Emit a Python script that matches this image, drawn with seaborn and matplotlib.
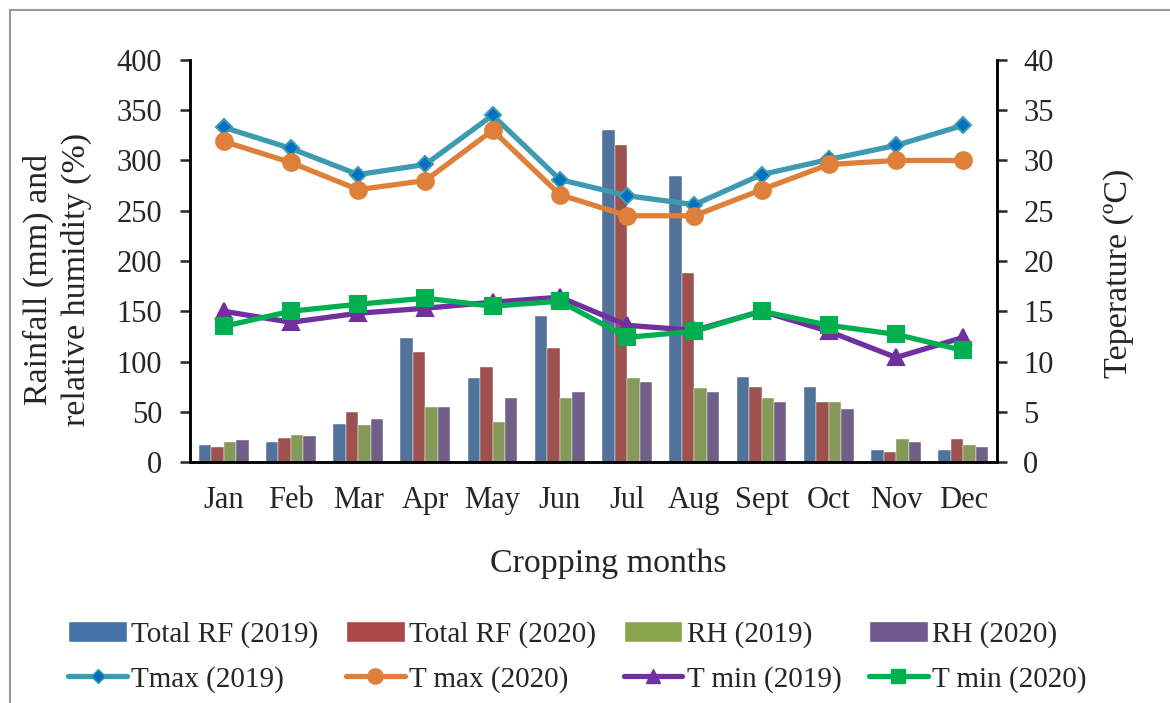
import numpy as np
import pandas as pd
import matplotlib
matplotlib.use("Agg")
import matplotlib.pyplot as plt
from matplotlib.patches import Rectangle, Patch
from matplotlib.lines import Line2D
import seaborn as sns

# data
months = ["Jan", "Feb", "Mar", "Apr", "May", "Jun", "Jul", "Aug", "Sept", "Oct", "Nov", "Dec"]
rf_2019 = [17, 20, 37.5, 123, 84, 145.5, 330.5, 285, 85, 74.5, 11.5, 12]
rf_2020 = [15, 24, 50, 109, 95, 113, 315.5, 188, 75, 60, 9.5, 22.5]
rh_2019 = [20, 27, 37, 54.5, 39.5, 64, 84, 74, 64, 60, 22.5, 17]
rh_2020 = [22, 25.5, 42.5, 54.5, 64, 70, 79.5, 69.5, 60, 53, 20, 15]
tmax_2019 = [33.3, 31.2, 28.6, 29.6, 34.5, 28.1, 26.5, 25.6, 28.6, 30.1, 31.5, 33.5]
tmax_2020 = [31.9, 29.8, 27.1, 28.0, 33.0, 26.6, 24.5, 24.5, 27.1, 29.6, 30.0, 30.0]
tmin_2019 = [15.0, 13.9, 14.8, 15.3, 15.9, 16.4, 13.6, 13.1, 15.0, 13.0, 10.4, 12.4]
tmin_2020 = [13.5, 15.0, 15.7, 16.3, 15.5, 16.0, 12.4, 13.0, 15.0, 13.6, 12.7, 11.1]

bar_names = ["Total RF (2019)", "Total RF (2020)", "RH (2019)", "RH (2020)"]
bar_colors = ["#4572A7", "#AA4643", "#89A54E", "#71588F"]
line_names = ["Tmax (2019)", "T max (2020)", "T min (2019)", "T min (2020)"]
line_colors = ["#3E9AB1", "#DE8039", "#7030A0", "#00B050"]
marker_face = ["#0070C0", "#DE8039", "#7030A0", "#00B050"]
markers = ["D", "o", "^", "s"]
marker_sizes = [8, 12, 11, 11]

bars = pd.DataFrame({
    "month": months * 4,
    "value": rf_2019 + rf_2020 + rh_2019 + rh_2020,
    "series": sum([[n] * 12 for n in bar_names], []),
})
temps = [tmax_2019, tmax_2020, tmin_2019, tmin_2020]

sns.set_style("white")
plt.rcParams["font.family"] = ["Liberation Serif", "DejaVu Serif"]

fig = plt.figure(figsize=(11.7, 7.03), dpi=100)
ax = fig.add_axes([0.1624, 0.3428, 0.6897, 0.5719])

# bars: rainfall and humidity on the left axis
sns.barplot(data=bars, x="month", y="value", hue="series", palette=bar_colors,
            width=0.74, ax=ax, legend=False, edgecolor="white", linewidth=0.3)

# lines: temperatures on the right axis
ax2 = ax.twinx()
pos = np.arange(len(months))
for vals, name, c, mf, m, ms in zip(temps, line_names, line_colors, marker_face, markers, marker_sizes):
    sns.lineplot(x=pos, y=vals, ax=ax2, color=c, linewidth=3.8, marker=m,
                 markersize=ms, markerfacecolor=mf, markeredgecolor=c,
                 markeredgewidth=1.5, legend=False)

ax.set_xlim(-0.5, 11.5)
ax.set_ylim(0, 400)
ax.set_yticks(range(0, 401, 50))
ax2.set_ylim(0, 40)
ax2.set_yticks(range(0, 41, 5))

ax.set_xticks(pos)
ax.set_xticklabels(months)
ax.set_xticks(np.arange(-0.5, 12, 1), minor=True)
ax.tick_params(axis="x", which="major", length=0, labelsize=22, pad=17)
ax.tick_params(axis="x", which="minor", direction="inout", length=14, width=1.8, color="black")
ax.tick_params(axis="y", direction="out", length=7, width=1.8, labelsize=22, left=True, pad=13)
ax2.tick_params(axis="y", direction="out", length=7, width=1.8, labelsize=22, right=True, pad=12)

for a in (ax, ax2):
    a.spines["top"].set_visible(False)
    for s in ("left", "right", "bottom"):
        a.spines[s].set_linewidth(1.8)
        a.spines[s].set_color("black")

ax.set_xlabel("Cropping months", fontsize=24.5)
ax.set_ylabel("Rainfall (mm) and\nrelative humidity (%)", fontsize=24.5, linespacing=1.25)
ax2.set_ylabel("Teperature (ºC)", fontsize=24.5)
ax.xaxis.set_label_coords(0.518, -0.215)
ax.yaxis.set_label_coords(-0.122, 0.453)
ax2.yaxis.set_label_coords(1.132, 0.47)

# legend: bars on the first row, lines on the second
handles = []
for i in range(4):
    handles.append(Patch(facecolor=bar_colors[i], edgecolor="white", label=bar_names[i]))
    handles.append(Line2D([0], [0], color=line_colors[i], lw=3.8, marker=markers[i],
                          markersize=marker_sizes[i] - 1, markerfacecolor=marker_face[i],
                          markeredgecolor=line_colors[i], label=line_names[i]))
fig.legend(handles=handles, ncol=4, loc="lower left",
           bbox_to_anchor=(0.046, -0.006, 0.895, 0.14), mode="expand",
           frameon=False, fontsize=21, handlelength=2.0, handletextpad=0.15,
           labelspacing=0.6, borderaxespad=0.1)

fig.add_artist(Rectangle((10 / 1170, -0.1), 1.5, 1.1 - 10 / 703, transform=fig.transFigure,
                         fill=False, edgecolor="#9a9a9a", linewidth=1.5))

fig.savefig("out.png", dpi=100)
